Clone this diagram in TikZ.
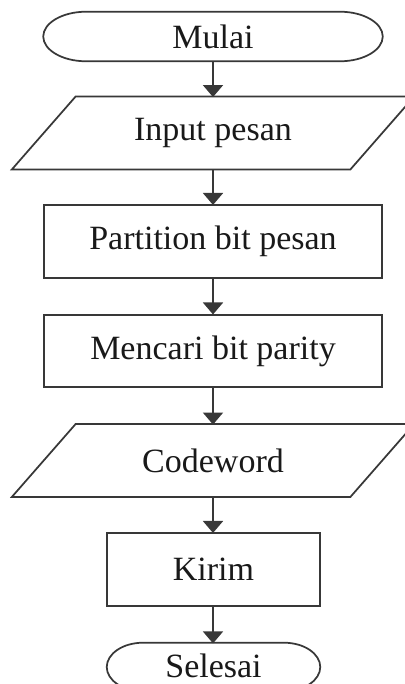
\documentclass[tikz,border=0pt]{standalone}
\usepackage{fontspec}
\setmainfont{Liberation Serif}
\usetikzlibrary{arrows.meta,calc}
\begin{document}
\begin{tikzpicture}[x=0.75pt,y=-0.75pt,
  every node/.style={inner sep=0pt,font=\fontsize{25.5}{30}\selectfont,text=black!90},
  outline/.style={draw=black!78,line width=1.3pt},
  boxnode/.style={outline,minimum width=253.5pt,minimum height=54.5pt},
  hidden/.style={draw=none,minimum width=253.5pt,minimum height=54.5pt},
  arr/.style={draw=black!78,line width=1.3pt,-{Triangle[width=15pt,length=9pt]},shorten >=-0.5pt}
]
\useasboundingbox (0,0) rectangle (404,684);
\fill[white] (0,0) rectangle (404,684);

% nodes
\node[draw=none,minimum width=254.25pt,minimum height=36.75pt] (mulai) at (213,36.5) {Mulai};
\node[hidden] (input) at (213,133) {Input pesan};
\node[boxnode] (part) at (213,241.5) {Partition bit pesan};
\node[boxnode] (cari) at (213,351) {Mencari bit parity};
\node[hidden] (code) at (213,460.5) {Codeword};
\node[outline,minimum width=159.75pt,minimum height=54.5pt] (kirim) at (213.5,569.5) {Kirim};
\node[draw=none,minimum width=159.75pt,minimum height=36pt] (selesai) at (213.5,667) {};
\node (seltext) at (213.5,665.5) {Selesai};

% terminator outlines
\draw[outline] ([xshift=32pt]mulai.north west) -- ([xshift=-32pt]mulai.north east)
  .. controls +(17.7pt,0pt) and +(0pt,10.1pt) .. (mulai.east)
  .. controls +(0pt,-10.1pt) and +(17.7pt,0pt) .. ([xshift=-32pt]mulai.south east)
  -- ([xshift=32pt]mulai.south west)
  .. controls +(-17.7pt,0pt) and +(0pt,-10.1pt) .. (mulai.west)
  .. controls +(0pt,10.1pt) and +(-17.7pt,0pt) .. ([xshift=32pt]mulai.north west) -- cycle;
\draw[outline] ([xshift=27pt]selesai.north west) -- ([xshift=-27pt]selesai.north east)
  .. controls +(14.9pt,0pt) and +(0pt,9.9pt) .. (selesai.east)
  .. controls +(0pt,-9.9pt) and +(14.9pt,0pt) .. ([xshift=-27pt]selesai.south east)
  -- ([xshift=27pt]selesai.south west)
  .. controls +(-14.9pt,0pt) and +(0pt,-9.9pt) .. (selesai.west)
  .. controls +(0pt,9.9pt) and +(-14.9pt,0pt) .. ([xshift=27pt]selesai.north west) -- cycle;

% parallelogram outlines
\draw[outline] ([xshift=24pt]input.north west) -- ([xshift=24pt]input.north east)
  -- ([xshift=-24pt]input.south east) -- ([xshift=-24pt]input.south west) -- cycle;
\draw[outline] ([xshift=24pt]code.north west) -- ([xshift=24pt]code.north east)
  -- ([xshift=-24pt]code.south east) -- ([xshift=-24pt]code.south west) -- cycle;

% connectors
\draw[arr] (mulai) -- (input);
\draw[arr] (input) -- (part);
\draw[arr] (part) -- (cari);
\draw[arr] (cari) -- (code);
\draw[arr] (code) -- (code |- kirim.north);
\draw[arr] (kirim.south -| code) -- (code |- selesai.north);
\end{tikzpicture}
\end{document}
